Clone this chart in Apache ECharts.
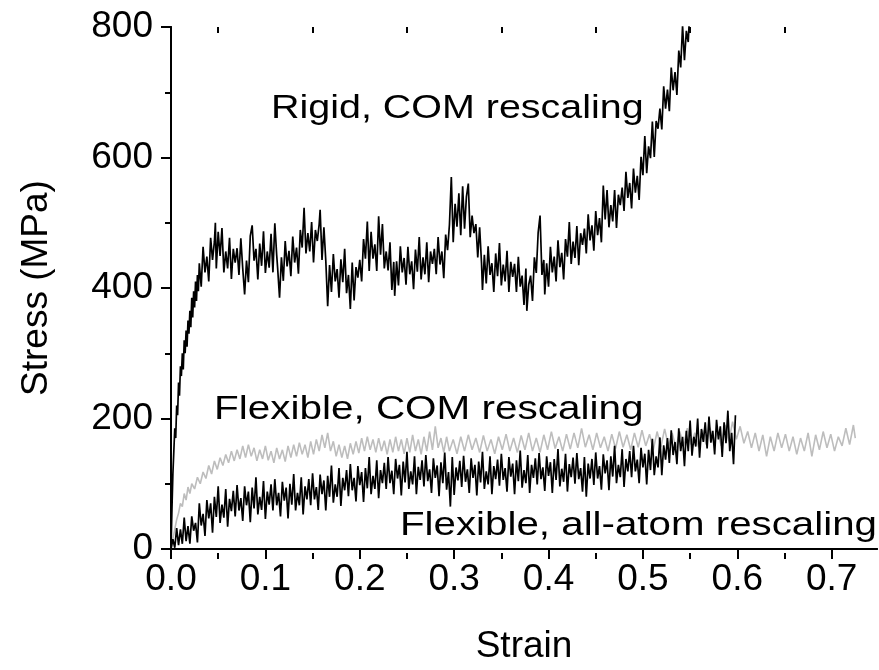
<!DOCTYPE html>
<html>
<head>
<meta charset="utf-8">
<script src="https://cdn.jsdelivr.net/npm/echarts@6/dist/echarts.min.js"></script>
<style>
html,body{margin:0;padding:0;background:#fff;}
#chart{width:879px;height:670px;}
</style>
</head>
<body>
<div id="chart"></div>
<script>
// Strain tick values
const xMajorTicks = [0, 0.1, 0.2, 0.3, 0.4, 0.5, 0.6, 0.7];
const xMinorTicks = [0.05, 0.15, 0.25, 0.35, 0.45, 0.55, 0.65];
const yTicks = [0, 200, 400, 600, 800];

// Rigid, COM rescaling  [strain, stress MPa]
const rigid = [
[0,0],[0.001,60],[0.002,115],[0.003,150],[0.004,185],[0.005,170],[0.006,220],[0.007,205],[0.008,255],[0.009,235],
[0.010,280],[0.011,265],[0.012,300],[0.013,275],[0.014,320],[0.015,300],[0.016,335],[0.017,310],[0.018,350],[0.019,330],
[0.020,365],[0.021,340],[0.022,385],[0.023,355],[0.024,395],[0.025,370],[0.026,410],[0.027,380],[0.028,420],[0.029,395],
[0.030,438],[0.032,402],[0.034,463],[0.036,424],[0.038,448],[0.040,410],[0.042,477],[0.044,443],[0.046,471],[0.047,500],
[0.048,430],[0.050,486],[0.052,449],[0.054,492],[0.056,424],[0.058,456],[0.060,430],[0.062,477],[0.064,414],[0.066,460],
[0.068,439],[0.070,461],[0.072,420],[0.074,476],[0.076,430],[0.078,390],[0.080,442],[0.082,409],[0.084,480],[0.086,496],
[0.088,442],[0.090,460],[0.092,413],[0.094,468],[0.096,434],[0.098,487],[0.100,423],[0.102,456],[0.104,431],[0.106,483],
[0.108,424],[0.110,499],[0.112,450],[0.113,430],[0.115,385],[0.117,447],[0.119,411],[0.121,472],[0.123,433],[0.125,457],
[0.127,418],[0.129,479],[0.131,439],[0.133,462],[0.135,422],[0.137,489],[0.139,462],[0.141,523],[0.143,453],[0.145,484],
[0.147,456],[0.149,501],[0.151,439],[0.153,489],[0.155,472],[0.157,498],[0.158,520],[0.160,443],[0.162,493],[0.164,442],
[0.166,372],[0.168,435],[0.170,394],[0.172,452],[0.174,410],[0.176,429],[0.178,385],[0.180,444],[0.182,409],[0.184,460],
[0.186,392],[0.188,420],[0.190,368],[0.192,439],[0.194,381],[0.196,432],[0.198,416],[0.200,443],[0.202,410],[0.204,475],
[0.206,445],[0.208,502],[0.210,426],[0.212,486],[0.214,445],[0.216,467],[0.218,426],[0.220,510],[0.222,451],[0.224,498],
[0.226,430],[0.228,456],[0.230,427],[0.232,470],[0.234,397],[0.236,440],[0.237,388],[0.239,441],[0.241,404],[0.243,464],
[0.245,424],[0.247,446],[0.249,405],[0.251,463],[0.253,421],[0.255,441],[0.257,398],[0.259,459],[0.261,425],[0.263,478],
[0.265,413],[0.267,447],[0.269,421],[0.271,470],[0.273,409],[0.275,456],[0.277,437],[0.279,460],[0.281,421],[0.283,478],
[0.285,436],[0.287,456],[0.289,415],[0.291,482],[0.293,458],[0.295,497],[0.297,570],[0.299,470],[0.301,529],[0.303,494],
[0.305,545],[0.307,481],[0.309,556],[0.311,491],[0.313,540],[0.315,560],[0.317,478],[0.319,511],[0.321,484],[0.323,498],
[0.325,447],[0.327,493],[0.329,438],[0.330,397],[0.332,451],[0.334,407],[0.336,464],[0.338,420],[0.340,438],[0.342,394],
[0.344,453],[0.346,418],[0.348,469],[0.350,404],[0.352,436],[0.354,410],[0.356,457],[0.358,394],[0.360,440],[0.362,417],
[0.364,437],[0.366,394],[0.368,448],[0.370,402],[0.372,419],[0.374,374],[0.376,430],[0.377,365],[0.379,405],[0.381,419],
[0.383,380],[0.385,447],[0.387,423],[0.389,485],[0.391,511],[0.393,420],[0.395,443],[0.396,390],[0.398,438],[0.400,402],
[0.402,463],[0.404,424],[0.406,448],[0.408,410],[0.410,473],[0.412,432],[0.414,454],[0.416,413],[0.418,475],[0.420,448],
[0.422,501],[0.424,437],[0.426,471],[0.428,446],[0.430,495],[0.432,435],[0.434,484],[0.436,466],[0.438,491],[0.440,453],
[0.442,513],[0.444,473],[0.446,496],[0.448,457],[0.450,518],[0.452,481],[0.454,507],[0.456,470],[0.458,557],[0.460,505],
[0.462,550],[0.464,493],[0.466,527],[0.468,502],[0.470,550],[0.472,492],[0.474,543],[0.476,527],[0.478,554],[0.480,518],
[0.482,578],[0.484,538],[0.486,561],[0.488,522],[0.490,583],[0.492,546],[0.494,572],[0.496,535],[0.498,601],[0.500,573],
[0.502,633],[0.504,576],[0.506,617],[0.508,599],[0.510,655],[0.512,601],[0.514,656],[0.516,644],[0.518,675],[0.520,643],
[0.522,709],[0.524,675],[0.526,704],[0.528,671],[0.530,738],[0.532,703],[0.534,731],[0.536,696],[0.538,764],[0.540,738],
[0.542,802],[0.544,749],[0.546,794],[0.548,777],[0.550,835],[0.552,803],[0.554,850]
];

// Flexible, COM rescaling
const flexCOM = [
[0,0],[0.002,15],[0.004,30],[0.006,45],[0.008,55],[0.010,70],[0.012,65],[0.014,85],[0.016,75],[0.018,95],
[0.020,85],[0.022,100],[0.025,92],[0.028,110],[0.031,100],[0.034,118],[0.037,108],[0.040,128],[0.043,115],[0.046,135],
[0.049,122],[0.052,140],[0.055,128],[0.058,145],[0.061,132],[0.064,150],[0.067,135],[0.070,152],[0.073,138],[0.076,158],
[0.079,140],[0.082,160],[0.085,142],[0.088,155],[0.091,135],[0.094,152],[0.097,138],[0.100,158],[0.103,136],[0.106,150],
[0.109,132],[0.112,155],[0.115,138],[0.118,152],[0.121,134],[0.124,158],[0.127,140],[0.130,160],[0.133,142],[0.136,163],
[0.139,145],[0.142,160],[0.145,140],[0.148,165],[0.151,145],[0.154,168],[0.157,150],[0.160,175],[0.163,155],[0.166,178],
[0.169,150],[0.172,165],[0.175,142],[0.178,160],[0.181,140],[0.184,158],[0.187,138],[0.190,162],[0.193,145],[0.196,165],
[0.199,147],[0.202,170],[0.205,150],[0.208,172],[0.211,152],[0.214,168],[0.217,148],[0.220,170],[0.223,150],[0.226,166],
[0.229,145],[0.232,168],[0.235,148],[0.238,172],[0.241,150],[0.244,168],[0.247,146],[0.250,170],[0.253,148],[0.256,175],
[0.259,150],[0.262,168],[0.265,145],[0.268,172],[0.271,150],[0.274,180],[0.277,152],[0.280,188],[0.283,155],[0.286,170],
[0.289,148],[0.292,172],[0.295,150],[0.299,168],[0.303,146],[0.307,172],[0.311,150],[0.315,175],[0.319,152],[0.323,170],
[0.327,148],[0.331,174],[0.335,150],[0.339,168],[0.343,146],[0.347,172],[0.351,152],[0.355,176],[0.359,150],[0.363,170],
[0.367,148],[0.371,174],[0.375,152],[0.379,178],[0.383,150],[0.387,170],[0.391,148],[0.395,175],[0.399,152],[0.403,180],
[0.407,154],[0.411,172],[0.415,150],[0.419,176],[0.423,153],[0.427,178],[0.431,155],[0.435,185],[0.439,156],[0.443,175],
[0.447,152],[0.451,178],[0.455,155],[0.459,172],[0.463,150],[0.467,176],[0.471,154],[0.475,180],[0.479,156],[0.483,175],
[0.487,152],[0.491,178],[0.495,156],[0.499,182],[0.503,158],[0.507,176],[0.511,152],[0.515,180],[0.519,156],[0.523,184],
[0.527,158],[0.531,178],[0.535,155],[0.539,180],[0.543,158],[0.547,185],[0.551,160],[0.555,178],[0.559,156],[0.563,182],
[0.567,160],[0.571,186],[0.575,162],[0.579,180],[0.583,158],[0.587,190],[0.591,165],[0.595,195],[0.599,168],[0.603,188],
[0.607,162],[0.611,180],[0.615,155],[0.619,178],[0.623,150],[0.627,175],[0.631,142],[0.635,172],[0.639,150],[0.643,178],
[0.647,155],[0.651,176],[0.655,150],[0.659,172],[0.663,145],[0.667,170],[0.671,150],[0.675,178],[0.679,142],[0.683,175],
[0.687,152],[0.691,180],[0.695,155],[0.699,176],[0.703,150],[0.707,172],[0.711,158],[0.715,185],[0.719,160],[0.723,190],
[0.725,170]
];

// Flexible, all-atom rescaling
const flexAll = [
[0,0],[0.002,15],[0.004,2],[0.006,32],[0.008,6],[0.010,30],[0.012,8],[0.014,48],[0.016,12],[0.018,35],
[0.020,8],[0.022,50],[0.024,28],[0.026,40],[0.028,10],[0.030,70],[0.032,36],[0.034,54],[0.036,20],[0.038,75],
[0.040,47],[0.042,70],[0.044,25],[0.046,80],[0.048,49],[0.050,96],[0.052,40],[0.054,68],[0.056,48],[0.058,92],
[0.060,34],[0.062,77],[0.064,58],[0.066,89],[0.068,50],[0.070,98],[0.072,59],[0.074,78],[0.076,43],[0.078,96],
[0.080,67],[0.082,88],[0.084,41],[0.086,94],[0.088,62],[0.090,110],[0.092,53],[0.094,80],[0.096,60],[0.098,104],
[0.100,46],[0.102,88],[0.104,68],[0.106,99],[0.108,59],[0.110,107],[0.112,67],[0.114,86],[0.116,50],[0.118,103],
[0.120,74],[0.122,94],[0.124,47],[0.126,100],[0.128,68],[0.130,115],[0.132,59],[0.134,86],[0.136,67],[0.138,110],
[0.140,53],[0.142,96],[0.144,76],[0.146,107],[0.148,67],[0.150,116],[0.152,76],[0.154,95],[0.156,60],[0.158,114],
[0.160,84],[0.162,105],[0.164,59],[0.166,112],[0.168,80],[0.170,128],[0.172,71],[0.174,99],[0.176,80],[0.178,124],
[0.180,66],[0.182,109],[0.184,90],[0.186,121],[0.188,81],[0.190,130],[0.192,90],[0.194,109],[0.196,73],[0.198,127],
[0.200,98],[0.202,118],[0.204,72],[0.206,124],[0.208,93],[0.210,141],[0.212,84],[0.214,112],[0.216,92],[0.218,136],
[0.220,78],[0.222,121],[0.224,101],[0.226,132],[0.228,92],[0.230,141],[0.232,101],[0.234,120],[0.236,84],[0.238,138],
[0.240,108],[0.242,129],[0.244,82],[0.246,134],[0.248,102],[0.250,149],[0.252,92],[0.254,119],[0.256,99],[0.258,142],
[0.260,84],[0.262,126],[0.264,106],[0.266,136],[0.268,96],[0.270,144],[0.272,104],[0.274,122],[0.276,86],[0.278,139],
[0.280,109],[0.282,128],[0.284,81],[0.286,133],[0.288,101],[0.290,148],[0.292,91],[0.294,118],[0.296,65],[0.298,141],
[0.300,83],[0.302,125],[0.304,105],[0.306,135],[0.308,95],[0.310,143],[0.312,103],[0.314,122],[0.316,86],[0.318,139],
[0.320,109],[0.322,129],[0.324,82],[0.326,134],[0.328,102],[0.330,149],[0.332,92],[0.334,119],[0.336,99],[0.338,142],
[0.340,84],[0.342,127],[0.344,107],[0.346,137],[0.348,97],[0.350,146],[0.352,106],[0.354,124],[0.356,88],[0.358,141],
[0.360,111],[0.362,131],[0.364,84],[0.366,136],[0.368,104],[0.370,151],[0.372,94],[0.374,121],[0.376,101],[0.378,144],
[0.380,86],[0.382,129],[0.384,109],[0.386,139],[0.388,99],[0.390,147],[0.392,107],[0.394,125],[0.396,89],[0.398,142],
[0.400,112],[0.402,133],[0.404,86],[0.406,138],[0.408,106],[0.410,153],[0.412,96],[0.414,123],[0.416,103],[0.418,146],
[0.420,88],[0.422,130],[0.424,110],[0.426,140],[0.428,100],[0.430,147],[0.432,107],[0.434,124],[0.436,88],[0.438,141],
[0.440,80],[0.442,131],[0.444,108],[0.446,138],[0.448,98],[0.450,148],[0.452,108],[0.454,127],[0.456,91],[0.458,145],
[0.460,116],[0.462,136],[0.464,90],[0.466,142],[0.468,111],[0.470,158],[0.472,101],[0.474,129],[0.476,110],[0.478,153],
[0.480,95],[0.482,138],[0.484,119],[0.486,150],[0.488,110],[0.490,158],[0.492,119],[0.494,137],[0.496,101],[0.498,155],
[0.500,125],[0.502,146],[0.504,99],[0.506,152],[0.508,121],[0.510,169],[0.512,113],[0.514,142],[0.516,125],[0.518,171],
[0.520,113],[0.522,159],[0.524,137],[0.526,170],[0.528,132],[0.530,182],[0.532,144],[0.534,164],[0.536,130],[0.538,185],
[0.540,150],[0.542,172],[0.544,127],[0.546,181],[0.548,150],[0.550,197],[0.552,143],[0.554,172],[0.556,157],[0.558,200],
[0.560,140],[0.562,184],[0.564,164],[0.566,194],[0.568,154],[0.570,203],[0.572,163],[0.574,181],[0.576,145],[0.578,198],
[0.580,168],[0.582,188],[0.584,141],[0.586,194],[0.588,162],[0.590,212],[0.592,150],[0.594,178],[0.596,130],[0.598,205]
];

const annotations = [
  {text: 'Rigid, COM rescaling', x: 271, y: 109, sx: 1.16},
  {text: 'Flexible, COM rescaling', x: 214, y: 410, sx: 1.19},
  {text: 'Flexible, all-atom rescaling', x: 400, y: 526, sx: 1.185}
];

const FONT = '"Liberation Sans", Arial, Helvetica, sans-serif';
const X_MAX = 0.748;

const chart = echarts.init(document.getElementById('chart'), null, {renderer: 'canvas'});
const axisLine = {show: true, lineStyle: {color: '#000', width: 2}};
const tickStyle = {color: '#000', width: 2};

const gridRect = {left: 171, right: 2, top: 27, bottom: 117, containLabel: false};

chart.setOption({
  animation: false,
  backgroundColor: '#fff',
  grid: [Object.assign({}, gridRect), Object.assign({}, gridRect)],
  xAxis: [
    {
      type: 'value', gridIndex: 0, position: 'bottom', min: 0, max: X_MAX,
      axisLine: axisLine,
      axisTick: {show: true, inside: false, length: 10, lineStyle: tickStyle, customValues: xMajorTicks},
      axisLabel: {show: true, customValues: xMajorTicks, formatter: v => v.toFixed(1), fontSize: 37, fontFamily: FONT, color: '#000', margin: 12},
      splitLine: {show: false},
      name: 'Strain', nameLocation: 'middle', nameGap: 79,
      nameTextStyle: {fontSize: 37, fontFamily: FONT, color: '#000'}
    },
    {
      type: 'value', gridIndex: 0, position: 'top', min: 0, max: X_MAX,
      axisLine: axisLine,
      axisTick: {show: true, inside: true, length: 10, lineStyle: tickStyle, customValues: xMajorTicks},
      axisLabel: {show: false},
      splitLine: {show: false}
    },
    {
      type: 'value', gridIndex: 1, position: 'bottom', min: 0, max: X_MAX,
      axisLine: {show: false},
      axisTick: {show: true, inside: false, length: 6, lineStyle: tickStyle, customValues: xMinorTicks},
      axisLabel: {show: false},
      splitLine: {show: false}
    },
    {
      type: 'value', gridIndex: 1, position: 'top', min: 0, max: X_MAX,
      axisLine: {show: false},
      axisTick: {show: true, inside: true, length: 6, lineStyle: tickStyle, customValues: xMinorTicks},
      axisLabel: {show: false},
      splitLine: {show: false}
    }
  ],
  yAxis: [
    {
      type: 'value', gridIndex: 0, position: 'left', min: 0, max: 800, interval: 200,
      axisLine: axisLine,
      axisTick: {show: true, inside: false, length: 10, lineStyle: tickStyle},
      minorTick: {show: true, splitNumber: 2, length: 6, lineStyle: tickStyle},
      axisLabel: {show: true, fontSize: 37, fontFamily: FONT, color: '#000', margin: 18},
      splitLine: {show: false},
      name: 'Stress (MPa)', nameLocation: 'middle', nameGap: 116,
      nameTextStyle: {fontSize: 37, fontFamily: FONT, color: '#000'}
    },
    {
      type: 'value', gridIndex: 0, position: 'right', min: 0, max: 800, interval: 200,
      axisLine: axisLine,
      axisTick: {show: true, inside: true, length: 10, lineStyle: tickStyle},
      minorTick: {show: true, splitNumber: 2, length: 6, lineStyle: tickStyle},
      axisLabel: {show: false},
      splitLine: {show: false}
    },
    {
      type: 'value', gridIndex: 1, min: 0, max: 800, show: false
    }
  ],
  series: [
    {name: 'Flexible, COM rescaling', type: 'line', xAxisIndex: 0, yAxisIndex: 0, data: flexCOM,
     showSymbol: false, symbol: 'none', lineStyle: {color: '#bdbdbd', width: 1.6}, itemStyle: {color: '#bdbdbd'}, clip: true, z: 2},
    {name: 'Flexible, all-atom rescaling', type: 'line', xAxisIndex: 0, yAxisIndex: 0, data: flexAll,
     showSymbol: false, symbol: 'none', lineStyle: {color: '#000', width: 1.7}, itemStyle: {color: '#000'}, clip: true, z: 3},
    {name: 'Rigid, COM rescaling', type: 'line', xAxisIndex: 0, yAxisIndex: 0, data: rigid,
     showSymbol: false, symbol: 'none', lineStyle: {color: '#000', width: 1.7}, itemStyle: {color: '#000'}, clip: true, z: 3}
  ],
  graphic: annotations.map(a => ({
    type: 'text', x: a.x, y: a.y, scaleX: a.sx, z: 10,
    style: {text: a.text, fontSize: 34, fontFamily: FONT, fill: '#000',
            textAlign: 'left', textVerticalAlign: 'middle', align: 'left', verticalAlign: 'middle'}
  }))
});
</script>
</body>
</html>
